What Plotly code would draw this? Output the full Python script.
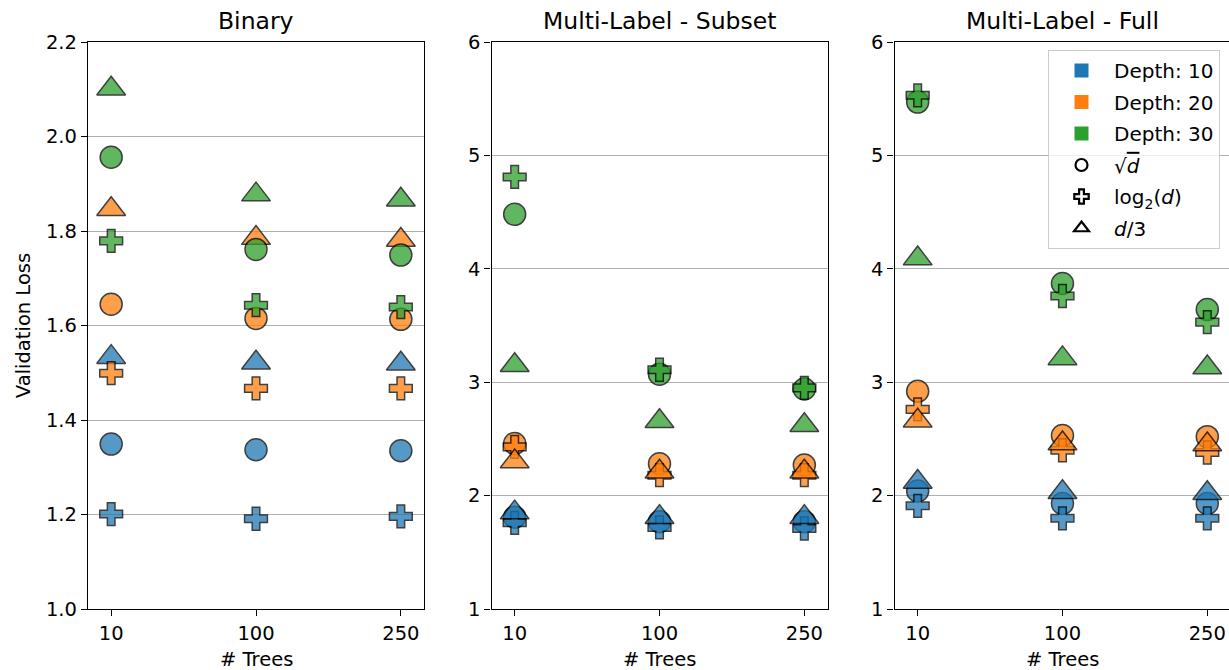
import plotly.graph_objects as go

trees = ["10", "100", "250"]
depths = [10, 20, 30]
panel_titles = ["Binary", "Multi-Label - Subset", "Multi-Label - Full"]
feature_names = ["sqrt", "log2", "third"]

# Binary
bin_d10_sqrt = [1.349, 1.337, 1.335]
bin_d10_log2 = [1.201, 1.191, 1.196]
bin_d10_third = [1.533, 1.521, 1.519]
bin_d20_sqrt = [1.645, 1.615, 1.613]
bin_d20_log2 = [1.499, 1.467, 1.467]
bin_d20_third = [1.846, 1.785, 1.781]
bin_d30_sqrt = [1.956, 1.761, 1.749]
bin_d30_log2 = [1.779, 1.643, 1.639]
bin_d30_third = [2.101, 1.877, 1.866]

# Multi-Label - Subset
sub_d10_sqrt = [1.81, 1.77, 1.77]
sub_d10_log2 = [1.76, 1.72, 1.71]
sub_d10_third = [1.85, 1.81, 1.81]
sub_d20_sqrt = [2.46, 2.28, 2.27]
sub_d20_log2 = [2.43, 2.18, 2.18]
sub_d20_third = [2.30, 2.21, 2.21]
sub_d30_sqrt = [4.48, 3.07, 2.94]
sub_d30_log2 = [4.81, 3.11, 2.95]
sub_d30_third = [3.15, 2.655, 2.62]

# Multi-Label - Full
full_d10_sqrt = [2.04, 1.93, 1.93]
full_d10_log2 = [1.91, 1.80, 1.80]
full_d10_third = [2.12, 2.03, 2.02]
full_d20_sqrt = [2.92, 2.53, 2.52]
full_d20_log2 = [2.76, 2.40, 2.38]
full_d20_third = [2.66, 2.46, 2.45]
full_d30_sqrt = [5.47, 3.87, 3.64]
full_d30_log2 = [5.53, 3.76, 3.53]
full_d30_third = [4.09, 3.21, 3.13]

panels = [
    {10: [bin_d10_sqrt, bin_d10_log2, bin_d10_third],
     20: [bin_d20_sqrt, bin_d20_log2, bin_d20_third],
     30: [bin_d30_sqrt, bin_d30_log2, bin_d30_third]},
    {10: [sub_d10_sqrt, sub_d10_log2, sub_d10_third],
     20: [sub_d20_sqrt, sub_d20_log2, sub_d20_third],
     30: [sub_d30_sqrt, sub_d30_log2, sub_d30_third]},
    {10: [full_d10_sqrt, full_d10_log2, full_d10_third],
     20: [full_d20_sqrt, full_d20_log2, full_d20_third],
     30: [full_d30_sqrt, full_d30_log2, full_d30_third]},
]

y_ranges = [[1.0, 2.2], [1, 6], [1, 6]]
y_ticks = [[1.0, 1.2, 1.4, 1.6, 1.8, 2.0, 2.2], [1, 2, 3, 4, 5, 6], [1, 2, 3, 4, 5, 6]]
y_ticktext = [["1.0", "1.2", "1.4", "1.6", "1.8", "2.0", "2.2"],
              ["1", "2", "3", "4", "5", "6"], ["1", "2", "3", "4", "5", "6"]]

colors = {10: "#1f77b4", 20: "#ff7f0e", 30: "#2ca02c"}
symbols = ["circle", "cross", "triangle-up"]
sizes = [22, 19, 25]

W, H = 1229, 670
x_doms = [[88 / W, 424 / W], [491.5 / W, 827.5 / W], [894.5 / W, 1.0]]
x_ranges = [[-0.16, 2.16], [-0.16, 2.16], [-0.16, 2.15]]
y_dom = [(H - 609) / H, (H - 42) / H]
centers = [(88 + 424) / 2 / W, (491.5 + 827.5) / 2 / W, (894.5 + 1230.5) / 2 / W]

FONT = "DejaVu Sans"
fig = go.Figure()

xpos = list(range(len(trees)))
for p, data in enumerate(panels):
    xa = "x" if p == 0 else f"x{p+1}"
    ya = "y" if p == 0 else f"y{p+1}"
    for d in depths:
        for k in range(3):
            fig.add_trace(go.Scatter(
                x=xpos, y=data[d][k], mode="markers", xaxis=xa, yaxis=ya,
                showlegend=False, hoverinfo="skip",
                marker=dict(symbol=symbols[k], size=sizes[k], color=colors[d],
                            opacity=0.75, line=dict(color="black", width=1.5)),
            ))

# legend entries
for d in depths:
    fig.add_trace(go.Scatter(x=[None], y=[None], mode="markers", xaxis="x3", yaxis="y3",
                             name=f"Depth: {d}", legendgroup=f"d{d}",
                             marker=dict(symbol="square", size=14, color=colors[d])))
leg_names = ["\u221a<span style='text-decoration:overline'><i>d</i></span>",
             "log<sub>2</sub>(<i>d</i>)", "<i>d</i>/3"]
leg_syms = ["circle-open", "cross-open", "triangle-up-open"]
leg_sizes = [12, 12, 13]
for k in range(3):
    fig.add_trace(go.Scatter(x=[None], y=[None], mode="markers", xaxis="x3", yaxis="y3",
                             name=leg_names[k], legendgroup=f"f{k}",
                             marker=dict(symbol=leg_syms[k], size=leg_sizes[k], color="black",
                                         line=dict(width=2.2, color="black"))))

layout = dict(
    width=W, height=H, margin=dict(l=0, r=0, t=0, b=0, autoexpand=False),
    paper_bgcolor="white", plot_bgcolor="white",
    font=dict(family=FONT, size=19.5, color="black"),
    showlegend=True,
    legend=dict(x=1220 / W, xanchor="right", y=(H - 50) / H, yanchor="top",
                bgcolor="rgba(255,255,255,0.8)", bordercolor="#cccccc", borderwidth=1,
                font=dict(family=FONT, size=20), itemwidth=55,
                tracegroupgap=2.5),
    annotations=[],
)
for p in range(3):
    sfx = "" if p == 0 else str(p + 1)
    layout[f"xaxis{sfx}"] = dict(
        domain=x_doms[p], anchor=f"y{sfx}", range=x_ranges[p], automargin=False,
        tickmode="array", tickvals=xpos, ticktext=trees,
        showline=True, linecolor="black", linewidth=1.3, mirror=True,
        ticks="outside", ticklen=6, tickwidth=1.3, tickcolor="black",
        showgrid=False, zeroline=False,
        tickfont=dict(family=FONT, size=19.5),
    )
    layout[f"yaxis{sfx}"] = dict(
        domain=y_dom, anchor=f"x{sfx}", range=y_ranges[p], automargin=False,
        tickmode="array", tickvals=y_ticks[p], ticktext=y_ticktext[p],
        showline=True, linecolor="black", linewidth=1.3, mirror=(p < 2),
        ticks="outside", ticklen=6, tickwidth=1.3, tickcolor="black",
        showgrid=True, gridcolor="#b0b0b0", gridwidth=1, zeroline=False,
        tickfont=dict(family=FONT, size=19.5),
    )
    layout["annotations"].append(dict(
        text=panel_titles[p], xref="paper", yref="paper",
        x=centers[p], y=(H - 21) / H,
        xanchor="center", yanchor="middle", showarrow=False,
        font=dict(family=FONT, size=23.5, color="black"),
    ))
    layout["annotations"].append(dict(
        text="# Trees", xref="paper", yref="paper",
        x=centers[p], y=(H - 659) / H,
        xanchor="center", yanchor="middle", showarrow=False,
        font=dict(family=FONT, size=19.5, color="black"),
    ))
layout["yaxis"]["title"] = dict(text="Validation Loss", font=dict(family=FONT, size=19.5), standoff=10)

fig.update_layout(**layout)
fig.write_html("out.html")
